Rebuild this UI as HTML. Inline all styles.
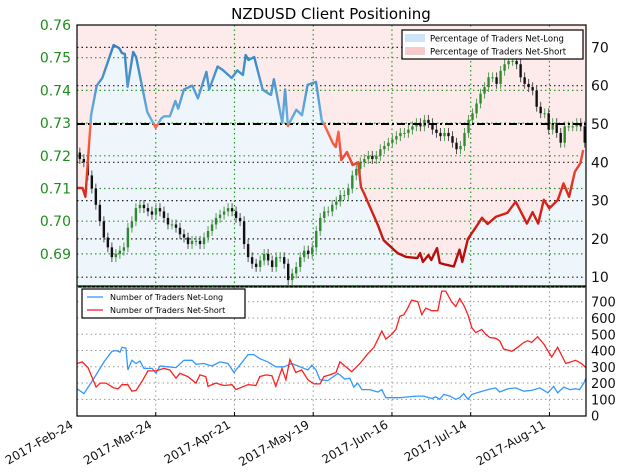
<!DOCTYPE html>
<html><head><meta charset="utf-8"><style>
html,body{margin:0;padding:0;background:#fff;}
svg{display:block;font-family:"DejaVu Sans","Liberation Sans",sans-serif;}
</style></head><body>
<svg id="chart" width="624" height="476" viewBox="0 0 624 476" xmlns="http://www.w3.org/2000/svg">
<defs>
<clipPath id="topClip"><rect x="77" y="25" width="509" height="261"/></clipPath>
<clipPath id="botClip"><rect x="77" y="287" width="509" height="129"/></clipPath>
<clipPath id="aboveHalf"><rect x="77" y="25" width="509" height="99"/></clipPath>
<clipPath id="belowHalf"><rect x="77" y="124" width="509" height="162"/></clipPath>
<linearGradient id="redGrad" gradientUnits="userSpaceOnUse" x1="0" y1="124" x2="0" y2="260">
<stop offset="0" stop-color="#ff6a4a"/><stop offset="0.5" stop-color="#dd2a1e"/><stop offset="1" stop-color="#b80c0c"/></linearGradient>
<linearGradient id="blueGrad" gradientUnits="userSpaceOnUse" x1="0" y1="124" x2="0" y2="40">
<stop offset="0" stop-color="#6aaee0"/><stop offset="1" stop-color="#2f7fbd"/></linearGradient>
</defs>
<text x="331" y="19" text-anchor="middle" font-size="15" fill="#000">NZDUSD Client Positioning</text>
<g id="topPanel"></g>
<g id="botPanel"></g>
<g id="axesPanel"></g>
</svg>
<script>
// ----- data -----
const pctDays = [0,2,3,5,7,9,13,15,16,17,18,20,21,25,28,30,31,33,35,36,38,41,43,46,47,50,52,55,57,59,60,61,63,66,68,69,70,73,74,75,78,80,82,85,87,88,91,92,93,94,96,98,100,101,102,107,109,110,114,117,121,122,123,125,126,128,129,131,134,136,137,139,142,144,146,149,153,156,160,162,164,166,168,171,173,175,177,179,180];
const pctLong = [33.3,33.3,31,52.3,60,62,70.6,69.8,68.5,68.3,59.7,68.8,67.5,53.1,49,51.5,52,52,56,54,59,60,56.7,63.6,59,65,64,62,64,62.8,68,66.7,67.5,59,58,57.6,61.7,50.2,59,49.5,53.7,52.3,60.2,61,51,49.7,45,44,48,40.6,42.7,39.3,40,33.5,32,23.6,19.7,19,16.3,15.3,15,16.3,14,15.8,14.5,17.6,13.7,13.3,12.8,17.2,14,20,23.2,25.5,23.9,25.8,26.8,29.7,24,27,24,30.2,28,30.2,34.5,31,37.5,39.8,43.2];
const closes = [0.719,0.718,0.714,0.710,0.705,0.700,0.695,0.692,0.689,0.690,0.691,0.692,0.698,0.700,0.704,0.705,0.704,0.703,0.702,0.704,0.703,0.701,0.699,0.699,0.698,0.696,0.695,0.693,0.694,0.694,0.693,0.695,0.697,0.699,0.701,0.702,0.703,0.704,0.703,0.701,0.700,0.693,0.689,0.687,0.686,0.688,0.690,0.688,0.686,0.689,0.689,0.687,0.682,0.684,0.686,0.689,0.691,0.690,0.692,0.697,0.701,0.703,0.703,0.705,0.706,0.708,0.708,0.710,0.714,0.716,0.718,0.719,0.720,0.719,0.720,0.722,0.723,0.724,0.725,0.726,0.727,0.727,0.728,0.729,0.730,0.729,0.731,0.730,0.728,0.727,0.726,0.727,0.726,0.724,0.722,0.723,0.727,0.731,0.733,0.736,0.739,0.741,0.744,0.744,0.742,0.746,0.748,0.749,0.749,0.748,0.744,0.742,0.741,0.740,0.735,0.733,0.733,0.728,0.730,0.727,0.724,0.729,0.729,0.729,0.730,0.729,0.724];
const firstOpen = 0.721;
const longDays = [0,2.5,6.8,9.6,12.4,13.9,15.3,16,17.4,18.1,19.5,21,22.4,23.8,26.7,28.1,29.5,32.3,35.2,38,40.9,42.3,45.1,48,50.8,53.7,55.8,57.9,60.8,62.9,65,67.9,70.7,73.6,76.4,79.3,82.1,83.5,85,86.4,89.2,92.8,95.2,97,98.4,99.8,101.3,104.1,107,108.4,109.8,112.7,114.8,117.6,120.5,123.3,126.2,127.6,129,130.4,132.6,134.7,136.1,137.5,139,140.4,143.2,146,148.9,150.3,153.2,156,158.9,161.7,164.6,167.4,169.5,170.9,173.1,175.2,177.3,178.7,180.2,181];
const longCount = [165,135,250,330,395,400,390,420,415,280,340,320,335,290,290,260,305,300,295,340,340,315,320,305,330,320,265,310,375,375,350,330,300,300,320,300,280,310,280,220,215,260,225,230,175,200,160,160,145,160,110,110,110,115,120,120,105,115,100,130,120,100,110,135,100,130,145,160,170,145,165,170,150,155,170,140,180,140,175,160,165,160,200,230];
const shortDays = [0,1.8,3.9,6.8,8.2,10.3,13.1,14.6,16,18.1,19.5,21,23.1,25.2,28.1,30.9,33,35.2,36.6,39.4,42.3,43.7,45.8,46.6,49.4,52.2,55.1,56.5,59.3,60.8,63.6,65,67.2,69.3,70.7,72.9,74.3,75.7,77.8,79.9,82.1,84.2,86.4,87.8,89.9,92.1,93.5,95.6,97.7,100.6,103.4,105.6,108.4,109.8,111.9,113.4,114.8,116.2,117.6,119,121.2,122.6,124,126.2,128.3,129.7,131.1,133.2,134.7,136.1,137.5,139,140.4,141.8,143.9,145.3,146.8,148.9,150.3,151.7,154.6,156.7,158.9,160.3,161.7,163.8,166,168.8,170.9,173.8,177.3,179.4,181];
const shortCount = [320,330,295,175,200,200,170,165,190,190,150,155,210,275,275,290,280,230,260,240,200,250,240,180,200,185,190,160,180,190,185,240,250,245,180,290,220,345,265,280,220,195,195,240,250,265,330,300,270,320,380,420,520,470,500,530,610,620,660,710,700,620,660,645,645,765,765,700,670,720,680,620,540,510,530,500,480,475,460,410,395,420,450,460,450,485,440,360,420,320,340,320,295];
const dateTicks = ["2017-Feb-24","2017-Mar-24","2017-Apr-21","2017-May-19","2017-Jun-16","2017-Jul-14","2017-Aug-11"];
const dateTickDays = [0,28,56,84,112,140,168];
const priceTicks = [0.69,0.70,0.71,0.72,0.73,0.74,0.75,0.76];
const pctTicks = [10,20,30,40,50,60,70];
const countTicks = [0,100,200,300,400,500,600,700];

// ----- scales -----
const X0=77, X1=586, DAYS=181;
const xDay = d => X0 + (X1-X0)*d/DAYS;
const yPrice = p => 25 + (0.76-p)*3270;
const yPct = v => 124 - (v-50)*3.83;
const yCnt = v => 415.6 - v*0.1627;
const NS="http://www.w3.org/2000/svg";
function mk(tag, attrs, parent){const e=document.createElementNS(NS,tag);for(const k in attrs)e.setAttribute(k,attrs[k]);parent.appendChild(e);return e;}
const topG=document.getElementById('topPanel'), botG=document.getElementById('botPanel'), axesG=document.getElementById('axesPanel');

// top background fills
const nP=Math.min(pctDays.length,pctLong.length);
const pts = pctDays.slice(0,nP).map((d,i)=>[xDay(d),yPct(pctLong[i])]);
const lineD = pts.map((p,i)=>(i?'L':'M')+p[0].toFixed(1)+' '+p[1].toFixed(1)).join(' ');
const gTop = mk('g',{'clip-path':'url(#topClip)'},topG);


let r=mk('rect',{x:77,y:25,width:509,height:261,fill:'#fdebeb'},gTop);


let fb=mk('path',{d:lineD+` L${X1} ${pts[pts.length-1][1]} L${X1} 286 L${X0} 286 Z`,fill:'#eef5fb'},gTop);


// grid
priceTicks.forEach(p=>{if(p<0.76){let l=mk('line',{x1:X0,x2:X1,y1:yPrice(p),y2:yPrice(p),stroke:'#2a9a2a','stroke-dasharray':'1.5,3','stroke-width':1.2},gTop);

}});
pctTicks.forEach(v=>{if(v!==50){let l=mk('line',{x1:X0,x2:X1,y1:yPct(v),y2:yPct(v),stroke:'#222','stroke-dasharray':'1.5,3','stroke-width':1.2},gTop);

}});
dateTickDays.forEach(d=>{let l=mk('line',{x1:xDay(d),x2:xDay(d),y1:25,y2:286,stroke:'#2a9a2a','stroke-dasharray':'1.5,3','stroke-width':1.2},gTop);

});
// candles
let prev=firstOpen;
closes.forEach((c,i)=>{
  const o=prev; prev=c;
  const x=xDay(1+i*1.425);
  const up=c>=o; const col=up?'#2e8b2e':'#111';
  const hi=Math.max(o,c)+0.0015, lo=Math.min(o,c)-0.0015;
  const w=mk('line',{x1:x,x2:x,y1:yPrice(hi),y2:yPrice(lo),stroke:up?'#5a9a5a':'#555','stroke-width':1},gTop);
  
  
  const y1=yPrice(Math.max(o,c)), y2=yPrice(Math.min(o,c));
  const b=mk('rect',{x:x-1.2,y:y1,width:2.4,height:Math.max(1,y2-y1),fill:col},gTop);
  
  
});
// 50 line
let fl=mk('line',{x1:X0,x2:X1,y1:124,y2:124,stroke:'#000','stroke-width':2,'stroke-dasharray':'8,3,2,3'},gTop);


// pct line
let lb=mk('path',{d:lineD,fill:'none',stroke:'url(#blueGrad)','stroke-width':2.4,'clip-path':'url(#aboveHalf)','stroke-linejoin':'round'},topG);


let lr=mk('path',{d:lineD,fill:'none',stroke:'url(#redGrad)','stroke-width':2.4,'clip-path':'url(#belowHalf)','stroke-linejoin':'round'},topG);


let fr=mk('rect',{x:77,y:25,width:509,height:261,fill:'none',stroke:'#000','stroke-width':1.2},topG);


// legend top
const lg=mk('g',{},topG);


mk('rect',{x:402,y:30,width:181,height:29,fill:'#fff',stroke:'#000','stroke-width':1.2},lg);
mk('rect',{x:405,y:34,width:20,height:8,fill:'#cfe4f8'},lg);
mk('rect',{x:405,y:47,width:20,height:8,fill:'#f8caca'},lg);
let t1=mk('text',{x:430,y:41.5,'font-size':8.5},lg);t1.textContent='Percentage of Traders Net-Long';


let t2=mk('text',{x:430,y:54.5,'font-size':8.5},lg);t2.textContent='Percentage of Traders Net-Short';



// bottom panel
const gB=mk('g',{'clip-path':'url(#botClip)'},botG);


countTicks.forEach(v=>{if(v>0){let l=mk('line',{x1:X0,x2:X1,y1:yCnt(v),y2:yCnt(v),stroke:'#999','stroke-dasharray':'1.5,3'},gB);

}});
dateTickDays.forEach(d=>{let l=mk('line',{x1:xDay(d),x2:xDay(d),y1:287,y2:416,stroke:'#999','stroke-dasharray':'1.5,3'},gB);

});
const pathOf=(ds,vs)=>{const n=Math.min(ds.length,vs.length);return ds.slice(0,n).map((d,i)=>(i?'L':'M')+xDay(d).toFixed(1)+' '+yCnt(vs[i]).toFixed(1)).join(' ');};
let bl=mk('path',{d:pathOf(longDays,longCount),fill:'none',stroke:'#3399ff','stroke-width':1.3},gB);


let rl=mk('path',{d:pathOf(shortDays,shortCount),fill:'none',stroke:'#ff2020','stroke-width':1.3},gB);


let fr2=mk('rect',{x:77,y:287,width:509,height:129,fill:'none',stroke:'#000','stroke-width':1.2},botG);


mk('line',{x1:X0,x2:X1,y1:287,y2:287,stroke:'#2a9a2a','stroke-dasharray':'1.5,3','stroke-width':1.2},botG);
const lg2=mk('g',{},botG);


mk('rect',{x:82,y:289,width:163,height:29,fill:'#fff',stroke:'#000','stroke-width':1.2},lg2);
mk('line',{x1:87,x2:103,y1:297,y2:297,stroke:'#3399ff','stroke-width':1.3},lg2);
mk('line',{x1:87,x2:103,y1:310,y2:310,stroke:'#ff2020','stroke-width':1.3},lg2);
let t3=mk('text',{x:110,y:300,'font-size':8},lg2);t3.textContent='Number of Traders Net-Long';


let t4=mk('text',{x:110,y:313,'font-size':8},lg2);t4.textContent='Number of Traders Net-Short';



// axes labels
priceTicks.forEach(p=>{let t=mk('text',{x:71,y:yPrice(p)+5,'text-anchor':'end','font-size':14,fill:'#1e8c1e'},axesG);t.textContent=p.toFixed(2);

});
pctTicks.forEach(v=>{let t=mk('text',{x:591,y:yPct(v)+5,'font-size':14,fill:'#111'},axesG);t.textContent=v;

});
countTicks.forEach(v=>{let t=mk('text',{x:591,y:yCnt(v)+5,'font-size':13,fill:'#111'},axesG);t.textContent=v;

});
dateTicks.forEach((s,i)=>{const x=xDay(dateTickDays[i]);
mk('line',{x1:x,x2:x,y1:416,y2:412,stroke:'#000'},axesG);
let t=mk('text',{x:x-3,y:427,'text-anchor':'end','font-size':12,fill:'#111',transform:`rotate(-30 ${x-3} 427)`},axesG);t.textContent=s;

});
</script>
</body></html>
